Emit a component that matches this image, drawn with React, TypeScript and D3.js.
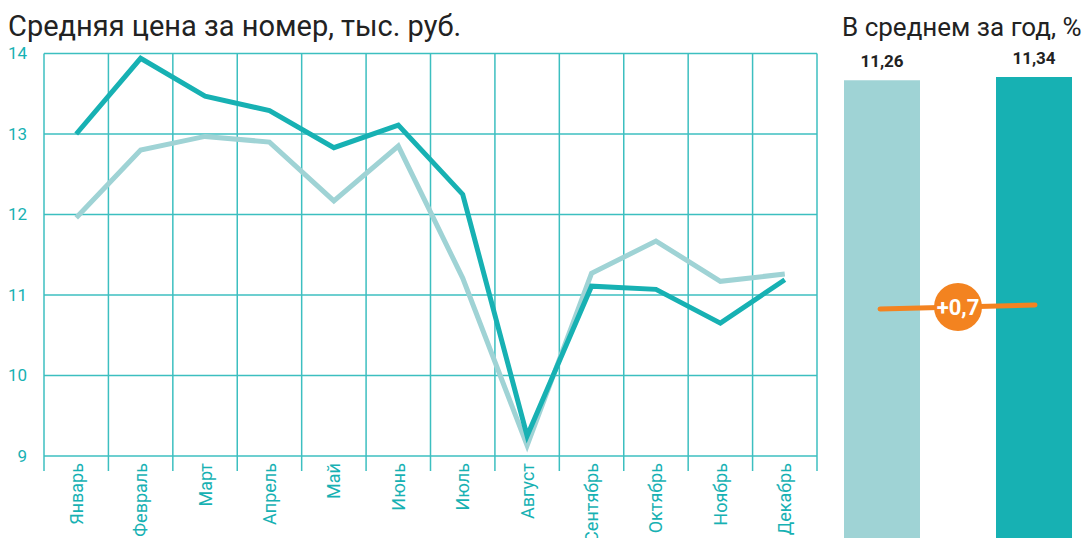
import React, { useRef, useEffect } from "react";
import * as d3 from "d3";

const MONTHS = [
  "Январь", "Февраль", "Март", "Апрель", "Май", "Июнь",
  "Июль", "Август", "Сентябрь", "Октябрь", "Ноябрь", "Декабрь",
];
const PRICE_CUR = [13.0, 13.94, 13.47, 13.29, 12.83, 13.11, 12.25, 9.25, 11.11, 11.07, 10.65, 11.19];
const PRICE_PREV = [11.96, 12.8, 12.97, 12.9, 12.17, 12.85, 11.21, 9.13, 11.27, 11.67, 11.17, 11.26];
const Y_TICKS = [9, 10, 11, 12, 13, 14];

const AVG_LABELS = ["11,26", "11,34"];
const AVG_VALUES = [11.26, 11.34];
const DELTA_LABEL = "+0,7";

const W = 1089;
const H = 538;
const DARK = "#17b1b3";
const LIGHT = "#9fd3d5";
const GRID = "#3cbfc0";
const ORANGE = "#f38320";
const FONT = "Roboto, 'Noto Sans', sans-serif";

export default function App() {
  const svgRef = useRef<SVGSVGElement>(null);

  useEffect(() => {
    if (!svgRef.current) return;
    const svg = d3.select(svgRef.current);
    svg.selectAll("*").remove();

    // график цен
    const left = 44, right = 817, top = 53.5, bottom = 456;
    const x = d3.scaleBand<string>().domain(MONTHS).range([left, right]);
    const y = d3.scaleLinear().domain([9, 14]).range([bottom, top]);
    const g = svg.append("g");

    // вертикальная сетка
    const bounds = MONTHS.map((m) => x(m)!).concat([right]);
    g.selectAll("line.v")
      .data(bounds)
      .join("line")
      .attr("x1", (d) => d)
      .attr("x2", (d) => d)
      .attr("y1", top)
      .attr("y2", bottom + 15)
      .attr("stroke", GRID)
      .attr("stroke-width", 1.5);

    g.selectAll("line.h")
      .data(Y_TICKS)
      .join("line")
      .attr("x1", left)
      .attr("x2", right)
      .attr("y1", (d) => y(d))
      .attr("y2", (d) => y(d))
      .attr("stroke", GRID)
      .attr("stroke-width", 1.5);

    g.selectAll("text.yt")
      .data(Y_TICKS)
      .join("text")
      .attr("x", 27)
      .attr("y", (d) => y(d))
      .attr("dy", "0.35em")
      .attr("text-anchor", "end")
      .attr("fill", DARK)
      .style("font-family", FONT)
      .style("font-size", "17px")
      .text((d) => d);

    g.selectAll("text.xt")
      .data(MONTHS)
      .join("text")
      .attr(
        "transform",
        (d) => `translate(${x(d)! + x.bandwidth() / 2 + 6.5},463) rotate(-90)`
      )
      .attr("text-anchor", "end")
      .attr("fill", DARK)
      .style("font-family", FONT)
      .style("font-size", "18px")
      .text((d) => d);

    const line = d3
      .line<number>()
      .x((_, i) => x(MONTHS[i])! + x.bandwidth() / 2)
      .y((d) => y(d));

    [
      { data: PRICE_PREV, color: LIGHT },
      { data: PRICE_CUR, color: DARK },
    ].forEach((s) => {
      g.append("path")
        .datum(s.data)
        .attr("d", line)
        .attr("fill", "none")
        .attr("stroke", s.color)
        .attr("stroke-width", 5)
        .attr("stroke-linejoin", "miter");
    });

    // заголовок
    svg.append("text")
      .attr("x", 8)
      .attr("y", 36)
      .attr("fill", "#222")
      .style("font-family", FONT)
      .style("font-size", "29px")
      .text("Средняя цена за номер, тыс. руб.");

    // правая панель
    svg.append("text")
      .attr("x", 842)
      .attr("y", 36)
      .attr("fill", "#222")
      .style("font-family", FONT)
      .style("font-size", "26px")
      .text("В среднем за год, %");

    const by = d3.scaleLinear().domain([0, 11.34]).range([H + 2, 77]);
    const bw = 76;
    const barX = (i: number) => 844 + i * 152;
    AVG_VALUES.forEach((v, i) => {
      svg.append("rect")
        .attr("x", barX(i))
        .attr("y", by(v))
        .attr("width", bw)
        .attr("height", by(0) - by(v))
        .attr("fill", i === 0 ? LIGHT : DARK);
      svg.append("text")
        .attr("x", barX(i) + bw / 2)
        .attr("y", by(v) - 13)
        .attr("text-anchor", "middle")
        .attr("fill", "#222")
        .style("font-family", FONT)
        .style("font-weight", "bold")
        .style("font-size", "17px")
        .text(AVG_LABELS[i]);
    });

    svg.append("line")
      .attr("x1", 880)
      .attr("y1", 309)
      .attr("x2", 1035)
      .attr("y2", 305)
      .attr("stroke", ORANGE)
      .attr("stroke-width", 5)
      .attr("stroke-linecap", "round");
    svg.append("circle")
      .attr("cx", 958)
      .attr("cy", 307)
      .attr("r", 24)
      .attr("fill", ORANGE);
    svg.append("text")
      .attr("x", 958)
      .attr("y", 307)
      .attr("dy", "0.36em")
      .attr("text-anchor", "middle")
      .attr("fill", "#fff")
      .style("font-family", FONT)
      .style("font-weight", "bold")
      .style("font-size", "22px")
      .text(DELTA_LABEL);
  }, []);

  return (
    <svg
      ref={svgRef}
      width={W}
      height={H}
      style={{ position: "absolute", left: 0, top: 0, background: "#fff" }}
    />
  );
}
